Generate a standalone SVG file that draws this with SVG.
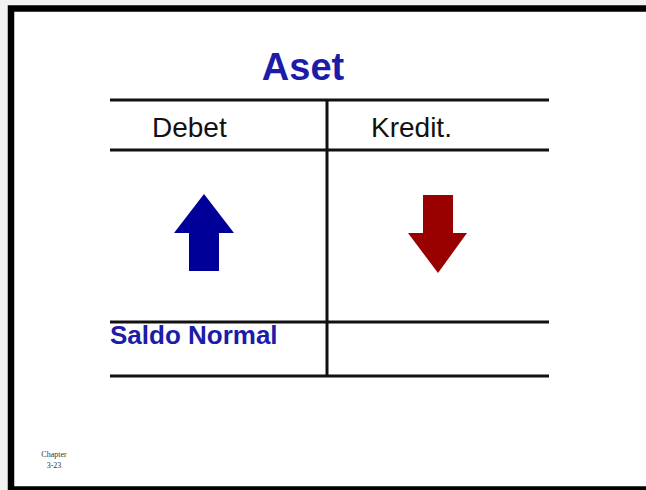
<svg xmlns="http://www.w3.org/2000/svg" width="646" height="490" viewBox="0 0 646 490">
<style>
.ln{stroke:#111;stroke-width:3;fill:none}
.hd{font-family:"Liberation Sans",Arial,sans-serif;font-size:28px;fill:#111}
.bl{font-family:"Liberation Sans",Arial,sans-serif;font-weight:bold;fill:#1c1ca8}
.ch{font-family:"Liberation Serif","Times New Roman",serif;font-size:8px;fill:#333;text-anchor:middle}
</style>
<rect x="0" y="0" width="646" height="490" fill="#f2f2f2"/>
<rect x="11" y="8.5" width="640" height="481" fill="#fff" stroke="#000" stroke-width="6.5"/>
<g id="title"><text class="bl" x="303" y="80" font-size="38" text-anchor="middle">Aset</text></g>
<g id="account-lines">
<line class="ln" x1="110" y1="100" x2="549" y2="100"/>
<line class="ln" x1="110" y1="150" x2="549" y2="150"/>
<line class="ln" x1="110" y1="322" x2="549" y2="322"/>
<line class="ln" x1="110" y1="376" x2="549" y2="376"/>
<line class="ln" x1="327" y1="100" x2="327" y2="376"/>
</g>
<g id="debet"><text class="hd" x="152" y="137">Debet</text></g>
<g id="kredit"><text class="hd" x="371" y="137">Kredit.</text></g>
<g id="arrow-up"><polygon points="204,194 234,233 219,233 219,271 189,271 189,233 174,233" fill="#000099"/></g>
<g id="arrow-down"><polygon points="423,195 453,195 453,233 467,233 438,273 408,233 423,233" fill="#990000"/></g>
<g id="saldo"><text class="bl" x="110" y="344" font-size="26">Saldo Normal</text></g>
<g id="chapter"><text class="ch" x="54" y="457">Chapter</text><text class="ch" x="54" y="468">3-23</text></g>
</svg>
